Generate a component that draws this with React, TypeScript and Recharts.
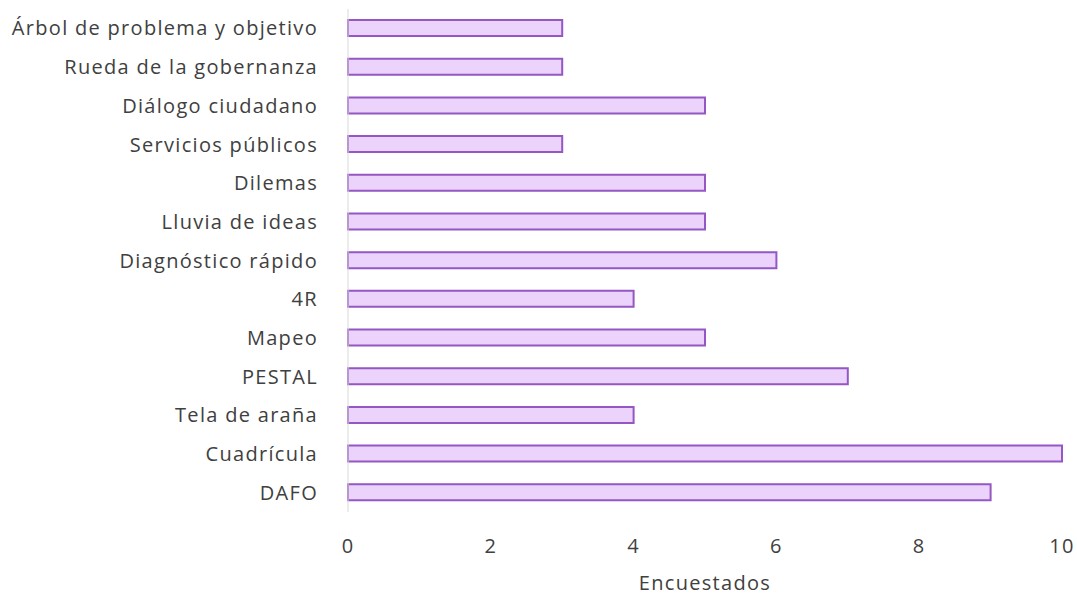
import React from "react";
import { BarChart, Bar, XAxis, YAxis, Label } from "recharts";

const categories = [
  "Árbol de problema y objetivo",
  "Rueda de la gobernanza",
  "Diálogo ciudadano",
  "Servicios públicos",
  "Dilemas",
  "Lluvia de ideas",
  "Diagnóstico rápido",
  "4R",
  "Mapeo",
  "PESTAL",
  "Tela de araña",
  "Cuadrícula",
  "DAFO",
];
const values = [3, 3, 5, 3, 5, 5, 6, 4, 5, 7, 4, 10, 9];
const xTicks = [0, 2, 4, 6, 8, 10];

const data = categories.map((name, i) => ({ name, value: values[i] }));

const FONT = "'Open Sans', sans-serif";
const textStyle = { fontFamily: FONT, fontSize: 20, fill: "#404040", letterSpacing: 1.3 };

export default function App() {
  return (
    <div style={{ position: "absolute", left: 0, top: 0, width: 1077, height: 598, background: "#fff" }}>
      <BarChart
        width={1077}
        height={598}
        data={data}
        layout="vertical"
        margin={{ top: 9, right: 15, bottom: 0, left: 0 }}
        barCategoryGap="58%"
      >
        <XAxis
          type="number"
          domain={[0, 10]}
          ticks={xTicks}
          axisLine={false}
          tickLine={false}
          tickMargin={21}
          height={86}
          tick={textStyle}
        >
          <Label
            value="Encuestados"
            position="insideBottom"
            offset={8}
            style={textStyle}
          />
        </XAxis>
        <YAxis
          type="category"
          dataKey="name"
          width={348}
          tickLine={false}
          axisLine={{ stroke: "#d9d9d9" }}
          tickMargin={24}
          interval={0}
          tick={textStyle}
        />
        <Bar
          dataKey="value"
          fill="#ebd3fb"
          stroke="#9457c4"
          strokeWidth={2}
          barSize={16}
          isAnimationActive={false}
        />
      </BarChart>
    </div>
  );
}
